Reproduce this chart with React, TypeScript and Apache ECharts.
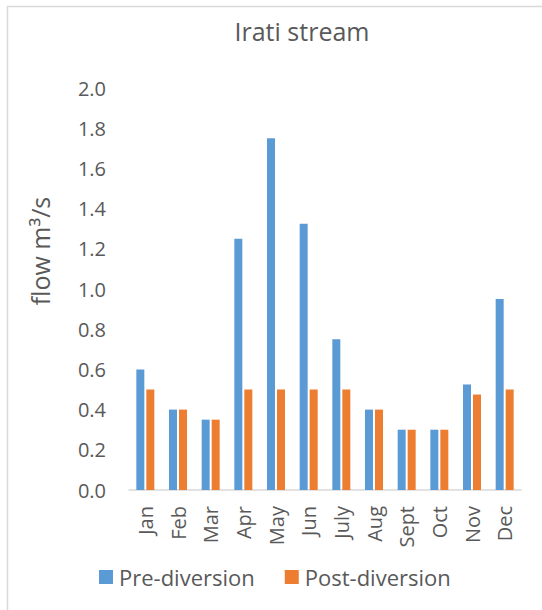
import React, { useEffect, useRef } from "react";
import * as echarts from "echarts";

const months = ["Jan", "Feb", "Mar", "Apr", "May", "Jun", "July", "Aug", "Sept", "Oct", "Nov", "Dec"];
const preDiversion = [0.6, 0.4, 0.35, 1.25, 1.75, 1.325, 0.75, 0.4, 0.3, 0.3, 0.525, 0.95];
const postDiversion = [0.5, 0.4, 0.35, 0.5, 0.5, 0.5, 0.5, 0.4, 0.3, 0.3, 0.475, 0.5];
const seriesNames = ["Pre-diversion", "Post-diversion"];
const chartTitle = "Irati stream";
const yAxisTitle = "flow m³/s";

const FONT = "'Open Sans', 'Liberation Sans', sans-serif";
const TEXT = "#595959";

export default function App() {
  const ref = useRef<HTMLDivElement>(null);

  useEffect(() => {
    document.body.style.margin = "0";
    const chart = echarts.init(ref.current!, null, { renderer: "svg" });
    chart.setOption({
      animation: false,
      backgroundColor: "#ffffff",
      title: {
        text: chartTitle,
        left: 297,
        top: 13,
        textAlign: "center",
        textStyle: { fontFamily: FONT, fontSize: 25, fontWeight: "normal", color: TEXT },
      },
      graphic: [
        {
          type: "rect",
          shape: { x: 7.5, y: 6.5, width: 600, height: 700 },
          style: { fill: "none", stroke: "#d9d9d9", lineWidth: 1.5 },
          silent: true,
        },
        {
          // vertical axis title, placed beside the value labels
          type: "text",
          x: 40,
          y: 251,
          rotation: Math.PI / 2,
          style: {
            text: yAxisTitle,
            fontFamily: FONT,
            fontSize: 25,
            fill: TEXT,
            align: "center",
            verticalAlign: "middle",
          },
          silent: true,
        },
      ],
      legend: {
        data: seriesNames,
        left: 94,
        top: 561,
        itemWidth: 14,
        itemHeight: 14,
        itemGap: 30,
        icon: "rect",
        textStyle: { fontFamily: FONT, fontSize: 22, color: TEXT, padding: [0, 0, 0, 1] },
      },
      grid: { left: 129, right: 21, top: 88, bottom: 120 },
      xAxis: {
        type: "category",
        data: months,
        axisLine: { lineStyle: { color: "#d9d9d9", width: 1.5 } },
        axisTick: { show: false },
        axisLabel: {
          rotate: 90,
          margin: 16,
          fontFamily: FONT,
          fontSize: 20,
          color: TEXT,
        },
      },
      yAxis: {
        type: "value",
        min: 0,
        max: 2,
        interval: 0.2,
        axisLine: { show: false },
        axisTick: { show: false },
        splitLine: { show: false },
        axisLabel: {
          margin: 23,
          fontFamily: FONT,
          fontSize: 20,
          color: TEXT,
          formatter: (v: number) => v.toFixed(1),
        },
      },
      series: [
        {
          name: seriesNames[0],
          type: "bar",
          data: preDiversion,
          barWidth: 8,
          barGap: "25%",
          itemStyle: { color: "#5b9bd5" },
        },
        {
          name: seriesNames[1],
          type: "bar",
          data: postDiversion,
          barWidth: 8,
          itemStyle: { color: "#ed7d31" },
        },
      ],
    });
    return () => chart.dispose();
  }, []);

  return <div ref={ref} style={{ width: 542, height: 610 }} />;
}
